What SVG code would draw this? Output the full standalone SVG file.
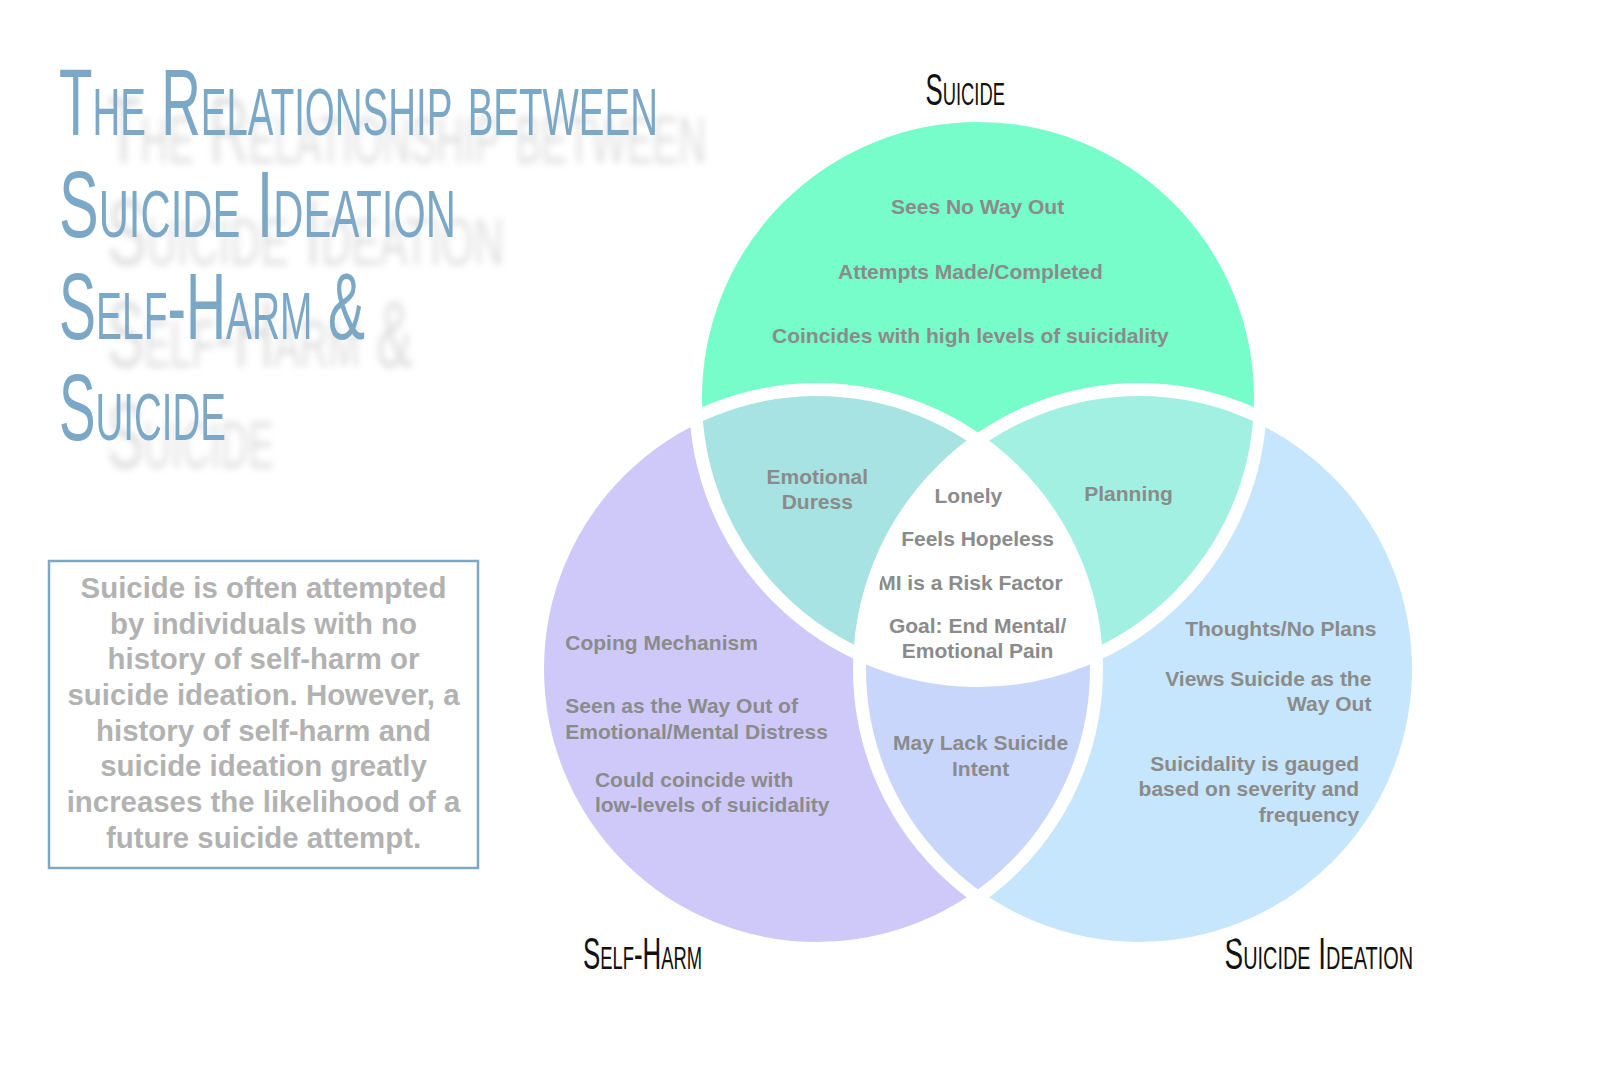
<svg xmlns="http://www.w3.org/2000/svg" width="1600" height="1067" viewBox="0 0 1600 1067">
<style>
.title{font-family:"Liberation Sans Narrow","Liberation Sans",Arial,sans-serif;font-size:94px;fill:#7ba8c6;font-variant:small-caps}
.ghost{fill:#c4c4c4;opacity:.55}
.set{font-family:"Liberation Sans Narrow","Liberation Sans",Arial,sans-serif;font-size:45px;fill:#111111;font-variant:small-caps}
.t{font-family:"Liberation Sans",Arial,sans-serif;font-weight:bold;font-size:21px;fill:#8b8b8b}
.m{text-anchor:middle}
.e{text-anchor:end}
.note{font-family:"Liberation Sans",Arial,sans-serif;font-weight:bold;font-size:29.4px;fill:#b2b2b2;text-anchor:middle}
.border{fill:none;stroke:#ffffff;stroke-width:13}
</style>
<defs>
<filter id="blur" x="-5%" y="-20%" width="110%" height="140%"><feGaussianBlur stdDeviation="3.5"/></filter>
<clipPath id="cTop"><circle cx="978" cy="398" r="282.5"/></clipPath>
<clipPath id="cLeft"><circle cx="817" cy="669" r="279.5"/></clipPath>
<clipPath id="cRight"><circle cx="1139" cy="669" r="279.5"/></clipPath>
</defs>
<rect width="1600" height="1067" fill="#ffffff"/>

<g id="title-shadow" class="title ghost" filter="url(#blur)">
<text x="107" y="163" textLength="599" lengthAdjust="spacingAndGlyphs">The Relationship between</text>
<text x="107" y="265" textLength="397" lengthAdjust="spacingAndGlyphs">Suicide Ideation</text>
<text x="107" y="367" textLength="306" lengthAdjust="spacingAndGlyphs">Self-Harm &amp;</text>
<text x="107" y="468" textLength="167" lengthAdjust="spacingAndGlyphs">Suicide</text>
</g>
<g id="title" class="title">
<text x="59" y="135" textLength="599" lengthAdjust="spacingAndGlyphs">The Relationship between</text>
<text x="59" y="237" textLength="397" lengthAdjust="spacingAndGlyphs">Suicide Ideation</text>
<text x="59" y="339" textLength="306" lengthAdjust="spacingAndGlyphs">Self-Harm &amp;</text>
<text x="59" y="440" textLength="167" lengthAdjust="spacingAndGlyphs">Suicide</text>
</g>

<g id="note">
<rect x="49" y="561" width="429" height="307" fill="#ffffff" stroke="#7fa7c1" stroke-width="2.5"/>
<text class="note" x="263.5" y="598">Suicide is often attempted</text>
<text class="note" x="263.5" y="634">by individuals with no</text>
<text class="note" x="263.5" y="669">history of self-harm or</text>
<text class="note" x="263.5" y="705">suicide ideation. However, a</text>
<text class="note" x="263.5" y="741">history of self-harm and</text>
<text class="note" x="263.5" y="776">suicide ideation greatly</text>
<text class="note" x="263.5" y="812">increases the likelihood of a</text>
<text class="note" x="263.5" y="848">future suicide attempt.</text>
</g>

<g id="set-suicide">
<circle cx="978" cy="398" r="282.5" fill="#77fdca"/>
<text class="set" x="925.5" y="105" textLength="79.5" lengthAdjust="spacingAndGlyphs">Suicide</text>
<text class="t m" x="977.6" y="214">Sees No Way Out</text>
<text class="t m" x="970.4" y="278.5">Attempts Made/Completed</text>
<text class="t m" x="970.4" y="343">Coincides with high levels of suicidality</text>
</g>

<g id="set-self-harm">
<circle cx="817" cy="669" r="279.5" fill="#cfc9fa"/>
<text class="set" x="583" y="969" textLength="119" lengthAdjust="spacingAndGlyphs">Self-Harm</text>
<text class="t" x="565.3" y="650">Coping Mechanism</text>
<text class="t" x="565.3" y="713">Seen as the Way Out of</text>
<text class="t" x="565.3" y="738.5">Emotional/Mental Distress</text>
<text class="t" x="594.9" y="786.5">Could coincide with</text>
<text class="t" x="594.9" y="812">low-levels of suicidality</text>
</g>

<g id="set-suicide-ideation">
<circle cx="1139" cy="669" r="279.5" fill="#c6e6fd"/>
<text class="set" x="1224.5" y="969" textLength="188.5" lengthAdjust="spacingAndGlyphs">Suicide Ideation</text>
<text class="t e" x="1376.5" y="635.5">Thoughts/No Plans</text>
<text class="t e" x="1371.4" y="685.5">Views Suicide as the</text>
<text class="t e" x="1371.4" y="711">Way Out</text>
<text class="t e" x="1359.2" y="770.5">Suicidality is gauged</text>
<text class="t e" x="1359.2" y="796">based on severity and</text>
<text class="t e" x="1359.2" y="821.5">frequency</text>
</g>

<g id="overlap-suicide-self-harm">
<circle cx="817" cy="669" r="279.5" fill="#a6e3e2" clip-path="url(#cTop)"/>
<text class="t m" x="817.3" y="483.5">Emotional</text>
<text class="t m" x="817.3" y="509">Duress</text>
</g>

<g id="overlap-suicide-ideation">
<circle cx="1139" cy="669" r="279.5" fill="#a2f0e1" clip-path="url(#cTop)"/>
<text class="t m" x="1128.6" y="501">Planning</text>
</g>

<g id="overlap-self-harm-ideation">
<circle cx="1139" cy="669" r="279.5" fill="#c9d6fb" clip-path="url(#cLeft)"/>
<text class="t m" x="980.6" y="750">May Lack Suicide</text>
<text class="t m" x="980.6" y="775.5">Intent</text>
</g>

<g id="overlap-all">
<g clip-path="url(#cLeft)"><circle cx="1139" cy="669" r="279.5" fill="#ffffff" clip-path="url(#cTop)"/></g>
<text class="t m" x="968.4" y="503">Lonely</text>
<text class="t m" x="977.6" y="546">Feels Hopeless</text>
<text class="t m" x="970.4" y="590">MI is a Risk Factor</text>
<text class="t m" x="977.6" y="632.5">Goal: End Mental/</text>
<text class="t m" x="977.6" y="658">Emotional Pain</text>
</g>

<g id="connectors">
<circle class="border" cx="978" cy="398" r="282.5"/>
<circle class="border" cx="817" cy="669" r="279.5"/>
<circle class="border" cx="1139" cy="669" r="279.5"/>
</g>
</svg>
